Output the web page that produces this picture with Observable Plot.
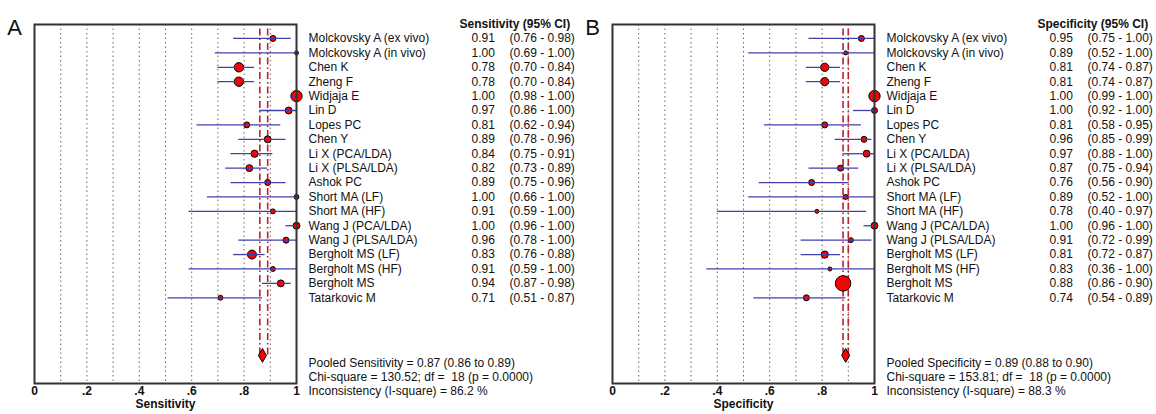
<!DOCTYPE html>
<html><head><meta charset="utf-8">
<script src="https://cdn.jsdelivr.net/npm/d3@7"></script>
<script src="https://cdn.jsdelivr.net/npm/@observablehq/plot@0.6"></script>
<style>
body{margin:0;background:#fff;}
#wrap{display:flex;width:1156px;height:414px;}
svg text{white-space:pre;}
</style></head><body><div id="wrap"></div>
<script>
const studies = ["Molckovsky A (ex vivo)","Molckovsky A (in vivo)","Chen K","Zheng F","Widjaja E","Lin D","Lopes PC","Chen Y","Li X (PCA/LDA)","Li X (PLSA/LDA)","Ashok PC","Short MA (LF)","Short MA (HF)","Wang J (PCA/LDA)","Wang J (PLSA/LDA)","Bergholt MS (LF)","Bergholt MS (HF)","Bergholt MS","Tatarkovic M"];

const sensEst = [0.91,1.00,0.78,0.78,1.00,0.97,0.81,0.89,0.84,0.82,0.89,1.00,0.91,1.00,0.96,0.83,0.91,0.94,0.71];
const sensLo  = [0.76,0.69,0.70,0.70,0.98,0.86,0.62,0.78,0.75,0.73,0.75,0.66,0.59,0.96,0.78,0.76,0.59,0.87,0.51];
const sensHi  = [0.98,1.00,0.84,0.84,1.00,1.00,0.94,0.96,0.91,0.89,0.96,1.00,1.00,1.00,1.00,0.88,1.00,0.98,0.87];
const sensWeight = [9,4,22,22,32,12,9,12,13,12,9,6,6,12,9,20,6,12,6];

const specEst = [0.95,0.89,0.81,0.81,1.00,1.00,0.81,0.96,0.97,0.87,0.76,0.89,0.78,1.00,0.91,0.81,0.83,0.88,0.74];
const specLo  = [0.75,0.52,0.74,0.74,0.99,0.92,0.58,0.85,0.88,0.75,0.56,0.52,0.40,0.96,0.72,0.72,0.36,0.86,0.54];
const specHi  = [1.00,1.00,0.87,0.87,1.00,1.00,0.95,0.99,1.00,0.94,0.90,1.00,0.97,1.00,0.99,0.87,1.00,0.90,0.89];
const specWeight = [9,4,17,17,32,9,9,9,12,9,9,6,4,12,6,13,4,60,9];

const sensPooled = [0.87, 0.86, 0.89];
const specPooled = [0.89, 0.88, 0.90];
const sensStats = {chi: "130.52", df: 18, p: "0.0000", i2: "86.2"};
const specStats = {chi: "153.81", df: 18, p: "0.0000", i2: "88.3"};

const axisTicks = [0, 0.2, 0.4, 0.6, 0.8, 1];
const gridTicks = [0.1, 0.2, 0.3, 0.4, 0.5, 0.6, 0.7, 0.8, 0.9];

function tickFmt(d) {
  if (d === 0) return "0";
  if (d === 1) return "1";
  return d3.format(".1f")(d).replace(/^0/, "");
}

function panel({letter, measure, est, lo, hi, w, pooled, stats}) {
  const rows = studies.map((name, i) => ({i, name, est: est[i], lo: lo[i], hi: hi[i], w: w[i]}));
  const pooledRow = studies.length + 3;
  const pooledData = [{i: pooledRow, est: pooled[0], lo: pooled[1], hi: pooled[2],
    text: `Pooled ${measure} = ${pooled[0].toFixed(2)} (${pooled[1].toFixed(2)} to ${pooled[2].toFixed(2)})\nChi-square = ${stats.chi}; df =  ${stats.df} (p = ${stats.p})\nInconsistency (I-square) = ${stats.i2} %`}];
  return Plot.plot({
    width: 578, height: 414,
    marginLeft: 34, marginRight: 282, marginTop: 24, marginBottom: 31,
    style: {fontFamily: "'Liberation Sans', Arial, sans-serif", fontSize: "12px", color: "#111", background: "white", overflow: "visible"},
    x: {domain: [0, 1]},
    y: {domain: [-0.97, 23.95], reverse: true, axis: null},
    r: {type: "sqrt", domain: [0, 64], range: [0, 8]},
    marks: [
      Plot.gridX(gridTicks, {stroke: "#666", strokeOpacity: 1, strokeWidth: 1, strokeDasharray: "1.5,3"}),
      Plot.ruleX([pooled[1], pooled[2]], {y1: -0.65, y2: pooledRow, stroke: "#c0202a", strokeWidth: 1.6, strokeDasharray: "7,3,1.5,3"}),
      Plot.dot(rows, {x: "est", y: "i", r: "w", fill: "#ff0000", stroke: "#000", strokeWidth: 1}),
      Plot.ruleY(rows, {y: "i", x1: "lo", x2: "hi", stroke: "#4040a8", strokeWidth: 1.3}),
      Plot.dot(pooledData, {x: "est", y: "i", symbol: "diamond", r: 4.2, fill: "#ff0000", stroke: "#000", strokeWidth: 1}),
      Plot.frame({stroke: "#333", strokeWidth: 2}),
      Plot.axisX({ticks: axisTicks, tickSize: 0, tickPadding: 3, tickFormat: tickFmt, fontSize: 12, fontWeight: "bold", label: null}),
      Plot.text([measure], {frameAnchor: "bottom", dy: 24, fontWeight: "bold", fontSize: 12}),
      Plot.text([letter], {frameAnchor: "top-left", dx: -20, dy: -5, fontSize: 22, textAnchor: "middle"}),
      Plot.text([`${measure} (95% CI)`], {frameAnchor: "top-right", dx: 163, dy: -5, textAnchor: "start", fontWeight: "bold", fontSize: 12}),
      Plot.text(rows, {y: "i", text: "name", frameAnchor: "right", dx: 12, textAnchor: "start", fontSize: 12}),
      Plot.text(rows, {y: "i", text: d => d.est.toFixed(2), frameAnchor: "right", dx: 175, textAnchor: "start", fontSize: 12}),
      Plot.text(rows, {y: "i", text: d => `(${d.lo.toFixed(2)} - ${d.hi.toFixed(2)})`, frameAnchor: "right", dx: 213, textAnchor: "start", fontSize: 12}),
      Plot.text(pooledData, {y: "i", text: "text", frameAnchor: "right", dx: 12, dy: 2, textAnchor: "start", lineAnchor: "top", lineHeight: 1.17, fontSize: 12})
    ]
  });
}

const wrap = document.getElementById("wrap");
wrap.appendChild(panel({letter: "A", measure: "Sensitivity", est: sensEst, lo: sensLo, hi: sensHi, w: sensWeight, pooled: sensPooled, stats: sensStats}));
wrap.appendChild(panel({letter: "B", measure: "Specificity", est: specEst, lo: specLo, hi: specHi, w: specWeight, pooled: specPooled, stats: specStats}));
</script></body></html>
